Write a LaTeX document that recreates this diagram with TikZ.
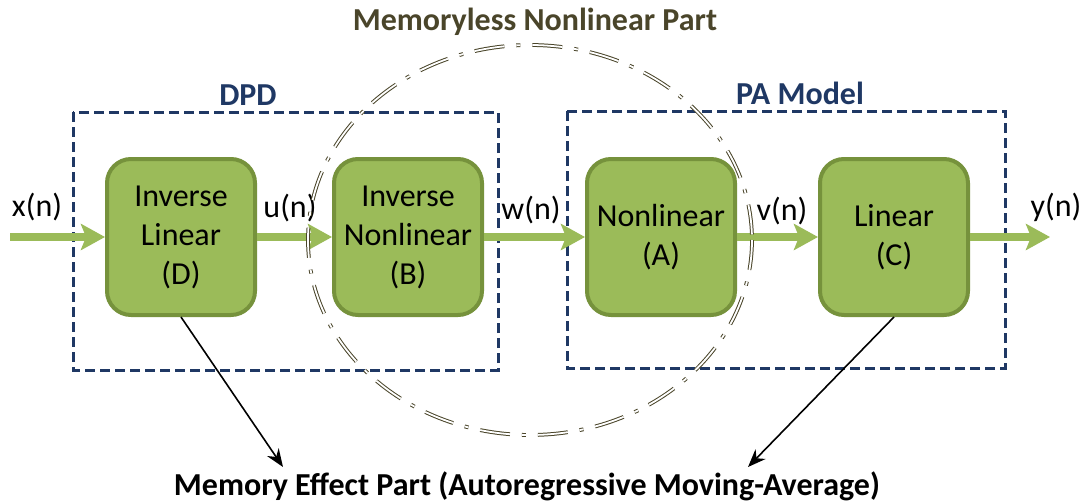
\documentclass[tikz,border=0pt]{standalone}
\usepackage{fontspec}
\setmainfont{Carlito}
\usetikzlibrary{arrows.meta}
\definecolor{boxgreen}{HTML}{9BBB59}
\definecolor{boxedge}{HTML}{76923C}
\definecolor{navy}{HTML}{1F3864}
\definecolor{olive}{HTML}{4A452A}
\newcommand{\bigfont}{\fontsize{32}{39}\selectfont}
\begin{document}
\begin{tikzpicture}[
      x=1pt, y=-1pt,
      block/.style={draw=boxedge, line width=4pt, fill=boxgreen, rounded corners=24pt,
        minimum width=148pt, minimum height=156pt, align=center, font=\bigfont, inner sep=0pt},
      sig/.style={boxgreen, line width=8pt, -{Stealth[length=24pt, width=26pt, inset=5pt]}},
      siglabel/.style={font=\bigfont, inner sep=0pt},
      part/.style={navy, line width=3pt, dash pattern=on 10pt off 5pt},
      partlabel/.style={navy, font=\bigfont\bfseries, inner sep=0pt},
      memcircle/.style={draw=olive, line width=1pt, double=white, double distance=1.8pt,
        dash pattern=on 30pt off 12pt on 4pt off 12pt},
      memarrow/.style={line width=1.6pt, -{Stealth[length=18pt, width=14pt]}}
      ]
      \useasboundingbox (0,0) rectangle (1085,503);
      \draw[part] (73,112) rectangle (498,370);
      \draw[part] (567,111) rectangle (1005,368);
      \node[partlabel] (dpd) at (248,95) {DPD};
      \node[partlabel] (pamodel) at (800,93) {PA Model};
      \node[block] (invlin) at (181,237) {Inverse\\Linear\\(D)};
      \node[block] (invnonlin) at (408,237) {Inverse\\Nonlinear\\(B)};
      \node[block] (nonlin) at (661,237) {Nonlinear\\(A)};
      \node[block] (lin) at (894,237) {Linear\\(C)};
      \coordinate (xin) at (10,237);
      \coordinate (yout) at (1050,237);
      \draw[sig] (xin) -- (invlin);
      \draw[sig] (invlin) -- (invnonlin);
      \draw[sig] (invnonlin) -- (nonlin);
      \draw[sig] (nonlin) -- (lin);
      \draw[sig] (lin) -- (yout);
      \node[siglabel] (xlab) at (37,207) {x(n)};
      \node[siglabel] (ulab) at (290,208) {u(n)};
      \node[siglabel] (wlab) at (531,210) {w(n)};
      \node[siglabel] (vlab) at (782,211) {v(n)};
      \node[siglabel] (ylab) at (1056,207) {y(n)};
      \draw[memcircle] (530,240) ellipse [x radius=222, y radius=195];
      \node[olive, font=\bigfont\bfseries, inner sep=0pt] (memless) at (535,22) {Memoryless Nonlinear Part};
      \node[font=\bigfont\bfseries, inner sep=0pt] (memeffect) at (527,486) {Memory Effect Part (Autoregressive Moving-Average)};
      \coordinate (memleft) at (283,467);
      \coordinate (memright) at (748,467);
      \draw[memarrow] (invlin.south) -- (memleft);
      \draw[memarrow] (lin.south) -- (memright);
    \end{tikzpicture}
\end{document}
